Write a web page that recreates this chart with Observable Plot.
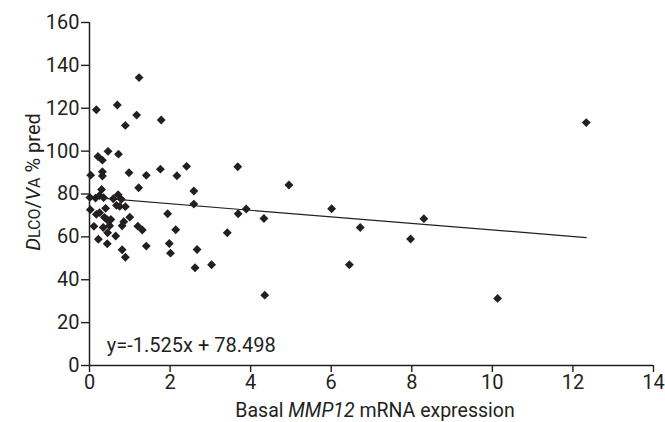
<!DOCTYPE html>
<html>
<head>
<meta charset="utf-8">
<script src="https://cdn.jsdelivr.net/npm/d3@7"></script>
<script src="https://cdn.jsdelivr.net/npm/@observablehq/plot@0.6"></script>
<style>
  html, body { margin: 0; padding: 0; background: #fff; }
  #chart { width: 665px; height: 422px; }
</style>
</head>
<body>
<div id="chart"></div>
<script>
// Basal MMP12 mRNA expression (x) vs DLCO/VA % pred (y)
const mmp12 = [
  0.17, 0.69, 1.17, 0.89, 1.78, 1.23,
  0.21, 0.32, 0.46, 0.72,
  0.03, 0.32, 0.32, 0.98, 1.41, 1.76, 2.17, 2.41,
  1.22, 0.30, 2.59,
  0.01, 0.15, 0.25, 0.35, 0.59, 0.71, 0.79, 2.59,
  0.02, 0.17, 0.25, 0.40, 0.67, 0.75, 0.89, 1.94,
  0.37, 0.44, 0.53, 0.85, 1.00,
  0.11, 0.34, 0.50, 0.81, 1.20, 1.31, 2.14,
  0.45, 0.22, 0.65, 0.44, 1.41, 1.98, 0.81, 0.89, 2.01, 2.67, 2.62,
  3.68, 4.95, 3.69, 3.89, 6.01, 4.33, 3.42, 3.03, 6.45, 4.35,
  6.72, 8.30, 7.97, 10.13, 12.33
];
const dlcoVa = [
  119.3, 121.5, 116.8, 112.0, 114.5, 134.3,
  97.5, 95.8, 99.9, 98.6,
  88.8, 90.4, 88.4, 89.9, 88.7, 91.6, 88.5, 92.9,
  82.9, 82.1, 81.4,
  78.4, 78.1, 79.3, 78.3, 77.8, 79.7, 77.5, 75.3,
  72.7, 70.5, 71.3, 73.3, 74.7, 74.2, 74.1, 70.8,
  69.1, 68.0, 68.1, 67.1, 69.2,
  64.9, 64.4, 65.2, 65.2, 65.0, 63.2, 63.3,
  61.9, 58.9, 60.4, 56.8, 55.7, 56.9, 54.0, 50.5, 52.4, 54.1, 45.6,
  92.7, 84.2, 70.8, 73.0, 73.1, 68.6, 61.9, 47.0, 47.0, 32.8,
  64.4, 68.5, 59.0, 31.3, 113.3
];
const slope = -1.525;
const intercept = 78.498;
const equationLabel = "y=-1.525x + 78.498";
const xTicks = [0, 2, 4, 6, 8, 10, 12, 14];
const yTicks = [0, 20, 40, 60, 80, 100, 120, 140, 160];

const points = mmp12.map((x, i) => ({x, y: dlcoVa[i]}));
const xMax = d3.max(mmp12);
const fitLine = [0, xMax].map(x => ({x, y: intercept + slope * x}));

const ink = "#231f20";

const svg = Plot.plot({
  width: 665,
  height: 422,
  marginLeft: 89,
  marginRight: 12,
  marginTop: 22,
  marginBottom: 57,
  style: {fontFamily: "Roboto, 'Noto Sans', sans-serif", fontSize: "20px", color: ink, background: "#fff"},
  x: {domain: [0, 14]},
  y: {domain: [0, 160]},
  marks: [
    Plot.axisX({ticks: xTicks, tickSize: 7, tickPadding: 2, label: null, stroke: ink, strokeWidth: 1.4, fontSize: 20}),
    Plot.axisY({ticks: yTicks, tickSize: 8, tickPadding: 2, label: null, stroke: ink, strokeWidth: 1.4, fontSize: 20}),
    Plot.ruleY([0], {stroke: ink, strokeWidth: 1.5}),
    Plot.ruleX([0], {stroke: ink, strokeWidth: 1.5}),
    Plot.line(fitLine, {x: "x", y: "y", stroke: ink, strokeWidth: 1.2}),
    Plot.dot(points, {x: "x", y: "y", symbol: "diamond2", r: 4, fill: ink, stroke: "none"}),
    Plot.text([equationLabel], {x: 0.43, y: 9.3, text: d => d, textAnchor: "start", fontSize: 20, fill: ink})
  ]
});

const s = d3.select(svg);
// y-axis label
const yl = s.append("text")
  .attr("transform", "translate(40,182) rotate(-90)")
  .attr("text-anchor", "middle")
  .attr("fill", ink)
  .style("font-size", "20px");
yl.append("tspan").attr("font-style", "italic").text("D");
yl.append("tspan").style("font-size", "16px").text("LCO");
yl.append("tspan").text("/");
yl.append("tspan").attr("font-style", "italic").text("V");
yl.append("tspan").style("font-size", "16px").text("A");
yl.append("tspan").text(" % pred");

// x-axis label
const xl = s.append("text")
  .attr("x", 375)
  .attr("y", 417)
  .attr("text-anchor", "middle")
  .attr("fill", ink)
  .style("font-size", "19.5px");
xl.append("tspan").text("Basal ");
xl.append("tspan").attr("font-style", "italic").text("MMP12");
xl.append("tspan").text(" mRNA expression");

document.getElementById("chart").appendChild(svg);
</script>
</body>
</html>
